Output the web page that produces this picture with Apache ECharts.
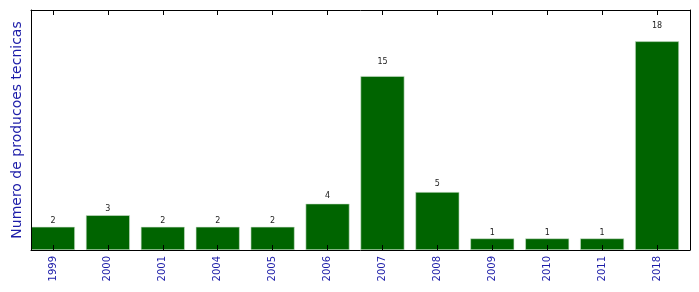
<!DOCTYPE html>
<html>
<head>
<meta charset="utf-8">
<script src="https://cdn.jsdelivr.net/npm/echarts@6/dist/echarts.min.js"></script>
<style>html,body{margin:0;padding:0;background:#fff}#c{width:699px;height:292px}</style>
</head>
<body>
<div id="c"></div>
<script>
var categories = ['1999','2000','2001','2004','2005','2006','2007','2008','2009','2010','2011','2018'];
var values = [2, 3, 2, 2, 2, 4, 15, 5, 1, 1, 1, 18];
var yName = 'Numero de producoes tecnicas';

var yMax = 20.7;
var plotH = 240, plotW = 659;
var pxPerUnit = plotH / yMax;
var idx = categories.map(function (_, i) { return i; });

var chart = echarts.init(document.getElementById('c'), null, {renderer: 'canvas'});
var blue = '#1c1ca8';
chart.setOption({
  animation: false,
  backgroundColor: '#fff',
  grid: {left: 31, right: 9, top: 10, bottom: 42, containLabel: false},
  xAxis: [{
    type: 'value', position: 'bottom', min: -0.4, max: 11.6, z: 10,
    axisLine: {show: true, onZero: false, lineStyle: {color: '#000', width: 1}},
    axisTick: {show: true, inside: true, length: 5, customValues: idx, lineStyle: {color: '#000'}},
    axisLabel: {show: true, customValues: idx, rotate: 90, color: blue, fontSize: 10,
      fontFamily: 'DejaVu Sans', margin: 6,
      formatter: function (v) { return categories[Math.round(v)]; }},
    splitLine: {show: false}
  }, {
    type: 'value', position: 'top', min: -0.4, max: 11.6, z: 10,
    axisLine: {show: true, onZero: false, lineStyle: {color: '#000', width: 1}},
    axisTick: {show: true, inside: true, length: 5, customValues: idx, lineStyle: {color: '#000'}},
    axisLabel: {show: false},
    splitLine: {show: false}
  }],
  yAxis: [{
    type: 'value', position: 'left', min: 0, max: yMax, z: 10,
    name: yName, nameLocation: 'middle', nameGap: 7,
    nameTextStyle: {color: blue, fontSize: 14, fontFamily: 'DejaVu Sans'},
    axisLine: {show: true, onZero: false, lineStyle: {color: '#000', width: 1}},
    axisTick: {show: false}, axisLabel: {show: false}, splitLine: {show: false}
  }, {
    type: 'value', position: 'right', min: 0, max: yMax, z: 10,
    axisLine: {show: true, onZero: false, lineStyle: {color: '#000', width: 1}},
    axisTick: {show: false}, axisLabel: {show: false}, splitLine: {show: false}
  }],
  series: [{
    type: 'bar', xAxisIndex: 0, yAxisIndex: 0,
    barWidth: 0.8 * plotW / 12,
    itemStyle: {color: '#006400', borderColor: '#cfe3cf', borderWidth: 0.6},
    data: values.map(function (v, i) {
      return {value: [i, v], label: {distance: v * 0.05 * pxPerUnit + 1}};
    }),
    label: {show: true, position: 'top', color: '#222', fontSize: 8, fontFamily: 'DejaVu Sans',
      formatter: function (p) { return String(p.value[1]); }}
  }]
});
</script>
</body>
</html>
